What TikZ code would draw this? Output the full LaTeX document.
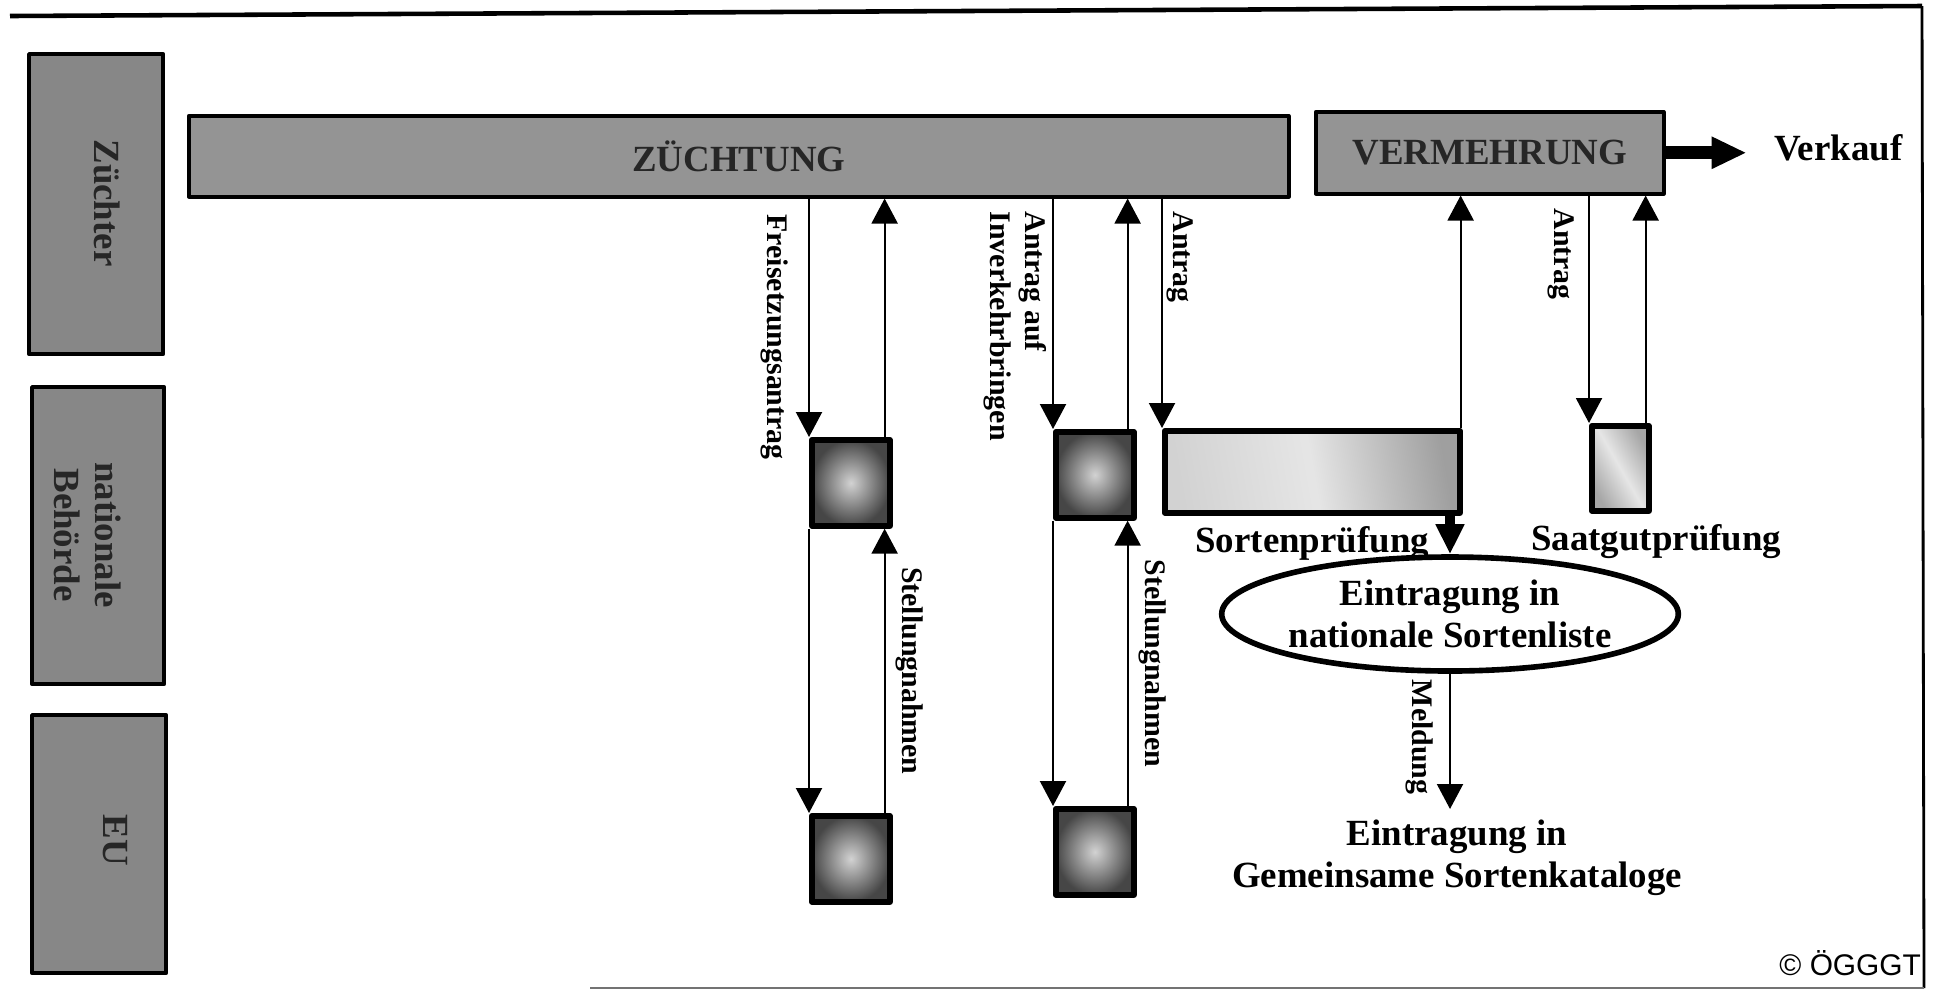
\documentclass[tikz,border=0pt]{standalone}
\usepackage{fontspec}
\setmainfont{Liberation Serif}
\newfontfamily\copyfont{Liberation Sans}
\usetikzlibrary{positioning,shapes.geometric,arrows.meta}
\definecolor{lanegray}{RGB}{135,135,135}
\definecolor{bargray}{RGB}{148,148,148}
\tikzset{
	lane/.style={draw, line width=1.2pt, fill=lanegray, anchor=north west, inner sep=0pt},
	lanetext/.style={rotate=-90, align=center, text=black!85, font=\fontsize{10.5}{11.6}\selectfont\bfseries},
	bar/.style={draw, line width=1pt, fill=bargray, anchor=north west, inner sep=0pt, text=black!85, font=\fontsize{10.5}{12}\selectfont\bfseries},
	smallbox/.style={draw, line width=1.6pt, shading=radial, inner color=gray!35, outer color=gray!55!black, minimum width=0.78cm, minimum height=0.86cm, anchor=north west, inner sep=0pt},
	testbox/.style={draw, line width=1.6pt, anchor=north west, inner sep=0pt},
	vlabel/.style={rotate=-90, font=\fontsize{8.5}{10}\selectfont\bfseries, inner xsep=0.12cm, inner ysep=0.1cm},
	txt/.style={font=\fontsize{10.5}{12}\selectfont\bfseries, align=center, inner sep=0.1cm},
	bigarrow/.style={line width=3.6pt, -{Triangle[length=0.35cm,width=0.3cm]}},
	downarrow/.style={line width=2.8pt, -{Triangle[length=0.3cm,width=0.27cm]}},
}
\begin{document}
\begin{tikzpicture}[line join=round, >={Triangle[length=0.25cm,width=0.26cm]}, every path/.append style={line width=0.6pt}]
	\useasboundingbox (0,0) rectangle (19.34,-9.92);
	% Rahmen
	\draw[line width=1.3pt] (0.10,-0.16) -- (19.22,-0.06);
	\draw[line width=0.8pt] (19.22,-0.06) -- (19.24,-9.88);
	\draw[line width=0.8pt, black!55] (5.90,-9.88) -- (19.24,-9.88);
	% Ebenen
	\node[lane, minimum width=1.34cm, minimum height=3.00cm] (zuechter) at (0.27,-0.52) {};
	\node[lane, minimum width=1.32cm, minimum height=2.97cm] (behoerde) at (0.30,-3.85) {};
	\node[lane, minimum width=1.34cm, minimum height=2.58cm] (eu) at (0.30,-7.13) {};
	\node[lanetext] (zuechterlbl) at (1.07,-2.03) {Züchter};
	\node[lanetext] (behoerdelbl) at (0.88,-5.35) {nationale\\Behörde};
	\node[lanetext] (eulbl) at (1.15,-8.40) {EU};
	% Balken
	\node[bar, minimum width=11.00cm, minimum height=0.81cm] (zucht) at (1.87,-1.14) {ZÜCHTUNG};
	\node[bar, minimum width=3.48cm, minimum height=0.82cm] (verm) at (13.14,-1.10) {VERMEHRUNG};
	\node[txt, right=0.98cm of verm, yshift=0.05cm] (verkauf) {Verkauf};
	\draw[bigarrow, shorten >=0.17cm] (verm.east) -- (verm.east -| verkauf.west);
	% Behoerden und EU
	\node[smallbox] (natA) at (8.09,-4.37) {};
	\node[smallbox] (euA) at (8.09,-8.13) {};
	\node[smallbox] (natB) at (10.53,-4.29) {};
	\node[smallbox] (euB) at (10.53,-8.06) {};
	\node[testbox, minimum width=2.95cm, minimum height=0.82cm, shading=axis, left color=gray!35, right color=gray!75, middle color=gray!20, shading angle=100] (sortbox) at (11.62,-4.28) {};
	\node[testbox, minimum width=0.57cm, minimum height=0.85cm, shading=axis, left color=gray!70, right color=gray!70, middle color=gray!20, shading angle=120] (saatbox) at (15.89,-4.23) {};
	\node[txt, below=0cm of sortbox] (sortlbl) {Sortenprüfung};
	\node[txt, below=0cm of saatbox, xshift=0.36cm] (saatlbl) {Saatgutprüfung};
	\node[txt, ellipse, draw, line width=1.6pt, minimum width=3.9cm, minimum height=1.14cm, inner sep=0pt] (eintrag) at (14.50,-6.14) {Eintragung in\\nationale Sortenliste};
	\node[txt] (katalog) at (14.57,-8.58) {Eintragung in\\Gemeinsame Sortenkataloge};
	% Freisetzung
	\draw[->] (natA.north west |- zucht.south) -- node[vlabel, pos=0, anchor=north west, inner ysep=0.2cm, inner xsep=0.15cm] (freilbl) {Freisetzungsantrag} (natA.north west);
	\draw[->] ([xshift=-0.08cm]natA.north east) -- ([xshift=-0.08cm]natA.north east |- zucht.south);
	\draw[->] (natA.south west) -- (euA.north west);
	\draw[->] ([xshift=-0.08cm]euA.north east) -- node[vlabel, midway, anchor=south] (stellA) {Stellungnahmen} ([xshift=-0.08cm]natA.south east);
	% Inverkehrbringen
	\draw[->] (natB.north west |- zucht.south) -- node[vlabel, pos=0, anchor=north west, align=left, inner ysep=0.05cm] (inverklbl) {Antrag auf\\Inverkehrbringen} (natB.north west);
	\draw[->] ([xshift=-0.09cm]natB.north east) -- ([xshift=-0.09cm]natB.north east |- zucht.south);
	\draw[->] (natB.south west) -- (euB.north west);
	\draw[->] ([xshift=-0.09cm]euB.north east) -- node[vlabel, midway, anchor=south] (stellB) {Stellungnahmen} ([xshift=-0.09cm]natB.south east);
	% Sortenpruefung
	\draw[->] (sortbox.north west |- zucht.south) -- node[vlabel, pos=0, anchor=south west, inner ysep=0.04cm] (antragC) {Antrag} (sortbox.north west);
	\draw[->] ([xshift=-0.02cm]sortbox.north east) -- ([xshift=-0.02cm]sortbox.north east |- verm.south);
	\draw[downarrow] (sortbox.south -| eintrag.north) -- (eintrag.north);
	\draw[->] (eintrag.south) -- node[vlabel, pos=0, anchor=north west, inner ysep=0.16cm, inner xsep=0.05cm] (meldlbl) {Meldung} (eintrag.south |- katalog.north);
	% Saatgutpruefung
	\draw[->] (saatbox.north west |- verm.south) -- node[vlabel, pos=0, anchor=north west, inner ysep=0.14cm] (antragD) {Antrag} (saatbox.north west);
	\draw[->] ([xshift=-0.06cm]saatbox.north east) -- ([xshift=-0.06cm]saatbox.north east |- verm.south);
	\node[font=\copyfont\fontsize{8.5}{10}\selectfont, anchor=south east, inner sep=0pt] (copyr) at (19.22,-9.77) {© ÖGGGT};
\end{tikzpicture}
\end{document}
